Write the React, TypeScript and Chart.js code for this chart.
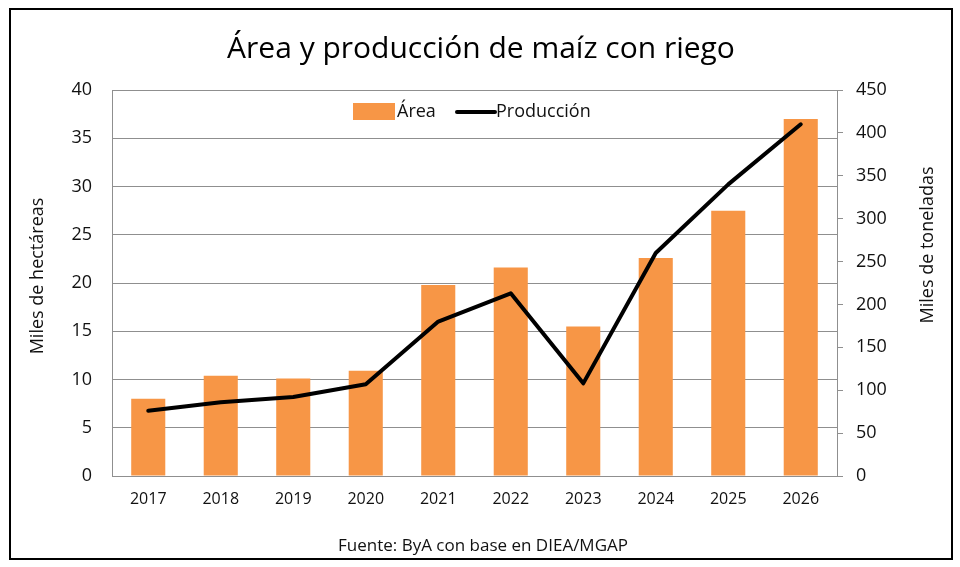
import { useEffect, useRef } from "react";
import { Chart, registerables } from "chart.js";

Chart.register(...registerables);

const categories = ["2017", "2018", "2019", "2020", "2021", "2022", "2023", "2024", "2025", "2026"];
const areaValues = [8.0, 10.4, 10.1, 10.9, 19.8, 21.6, 15.5, 22.6, 27.5, 37.0];
const productionValues = [76, 86, 92, 107, 180, 213, 108, 260, 340, 410];

const titleText = "Área y producción de maíz con riego";
const leftAxisTitle = "Miles de hectáreas";
const rightAxisTitle = "Miles de toneladas";
const sourceText = "Fuente: ByA con base en DIEA/MGAP";
const areaLabel = "Área";
const productionLabel = "Producción";

const FONT = "'Open Sans', 'DejaVu Sans', sans-serif";
const ORANGE = "#F79646";
const GRID = "#8f8f8f";
const TEXT = "#111111";

const decorPlugin = {
  id: "decor",
  afterDraw(chart: any) {
    const ctx = chart.ctx as CanvasRenderingContext2D;
    ctx.save();
    // outer frame
    ctx.strokeStyle = "#000";
    ctx.lineWidth = 2;
    ctx.strokeRect(10, 9, 942, 550);

    ctx.fillStyle = "#000";
    ctx.textAlign = "center";
    ctx.textBaseline = "alphabetic";
    ctx.font = `30px ${FONT}`;
    ctx.fillText(titleText, 481, 58);

    ctx.fillStyle = TEXT;
    ctx.font = `17px ${FONT}`;
    ctx.fillText(sourceText, 483, 551);

    ctx.font = `18px ${FONT}`;
    ctx.textBaseline = "middle";
    ctx.save();
    ctx.translate(38, 276);
    ctx.rotate(-Math.PI / 2);
    ctx.fillText(leftAxisTitle, 0, 0);
    ctx.restore();
    ctx.save();
    ctx.translate(928, 245);
    ctx.rotate(-Math.PI / 2);
    ctx.fillText(rightAxisTitle, 0, 0);
    ctx.restore();

    // legend
    const ds = chart.data.datasets;
    ctx.fillStyle = ds[1].backgroundColor;
    ctx.fillRect(353, 103, 42, 17);
    ctx.fillStyle = TEXT;
    ctx.textAlign = "left";
    ctx.fillText(ds[1].label, 397, 112);
    ctx.strokeStyle = ds[0].borderColor;
    ctx.lineWidth = 4;
    ctx.lineCap = "round";
    ctx.beginPath();
    ctx.moveTo(457, 112);
    ctx.lineTo(495, 112);
    ctx.stroke();
    ctx.fillText(ds[0].label, 496, 112);
    ctx.restore();
  },
};

export default function App() {
  const ref = useRef<HTMLCanvasElement>(null);

  useEffect(() => {
    document.body.style.margin = "0";
    const canvas = ref.current;
    if (!canvas) return;
    const chart = new Chart(canvas, {
      type: "bar",
      data: {
        labels: categories,
        datasets: [
          {
            type: "line",
            label: productionLabel,
            data: productionValues,
            yAxisID: "y2",
            borderColor: "#000000",
            backgroundColor: "#000000",
            borderWidth: 4,
            pointRadius: 0,
            tension: 0,
            borderCapStyle: "round",
            borderJoinStyle: "round",
            order: 1,
          } as any,
          {
            type: "bar",
            label: areaLabel,
            data: areaValues,
            yAxisID: "y",
            backgroundColor: ORANGE,
            borderWidth: 0,
            barPercentage: 0.47,
            categoryPercentage: 1,
            order: 2,
          } as any,
        ],
      },
      options: {
        animation: false,
        responsive: true,
        maintainAspectRatio: false,
        layout: { padding: { left: 0, right: 0, top: 90, bottom: 51 } },
        plugins: {
          legend: { display: false },
          title: { display: false },
          tooltip: { enabled: false },
        },
        scales: {
          x: {
            offset: true,
            grid: { display: false, drawTicks: false },
            border: { display: true, color: GRID, width: 1 },
            ticks: { color: TEXT, font: { family: FONT, size: 16 }, padding: 14, maxRotation: 0 },
            afterFit: (s: any) => {
              s.height = 40;
            },
          },
          y: {
            position: "left",
            min: 0,
            max: 40,
            ticks: { stepSize: 5, color: TEXT, font: { family: FONT, size: 18 }, padding: 20 },
            grid: { color: GRID, drawTicks: false, lineWidth: 1 },
            border: { display: true, color: GRID, width: 1 },
            afterFit: (s: any) => {
              s.width = 112;
            },
          },
          y2: {
            position: "right",
            min: 0,
            max: 450,
            ticks: { stepSize: 50, color: TEXT, font: { family: FONT, size: 18 }, padding: 13 },
            grid: { drawOnChartArea: false, drawTicks: true, tickLength: 6, color: GRID },
            border: { display: true, color: GRID, width: 1 },
            afterFit: (s: any) => {
              s.width = 123;
            },
          },
        },
      },
      plugins: [decorPlugin],
    });
    return () => chart.destroy();
  }, []);

  return (
    <div style={{ position: "fixed", left: 0, top: 0, width: 960, height: 567, background: "#fff" }}>
      <canvas ref={ref} />
    </div>
  );
}
